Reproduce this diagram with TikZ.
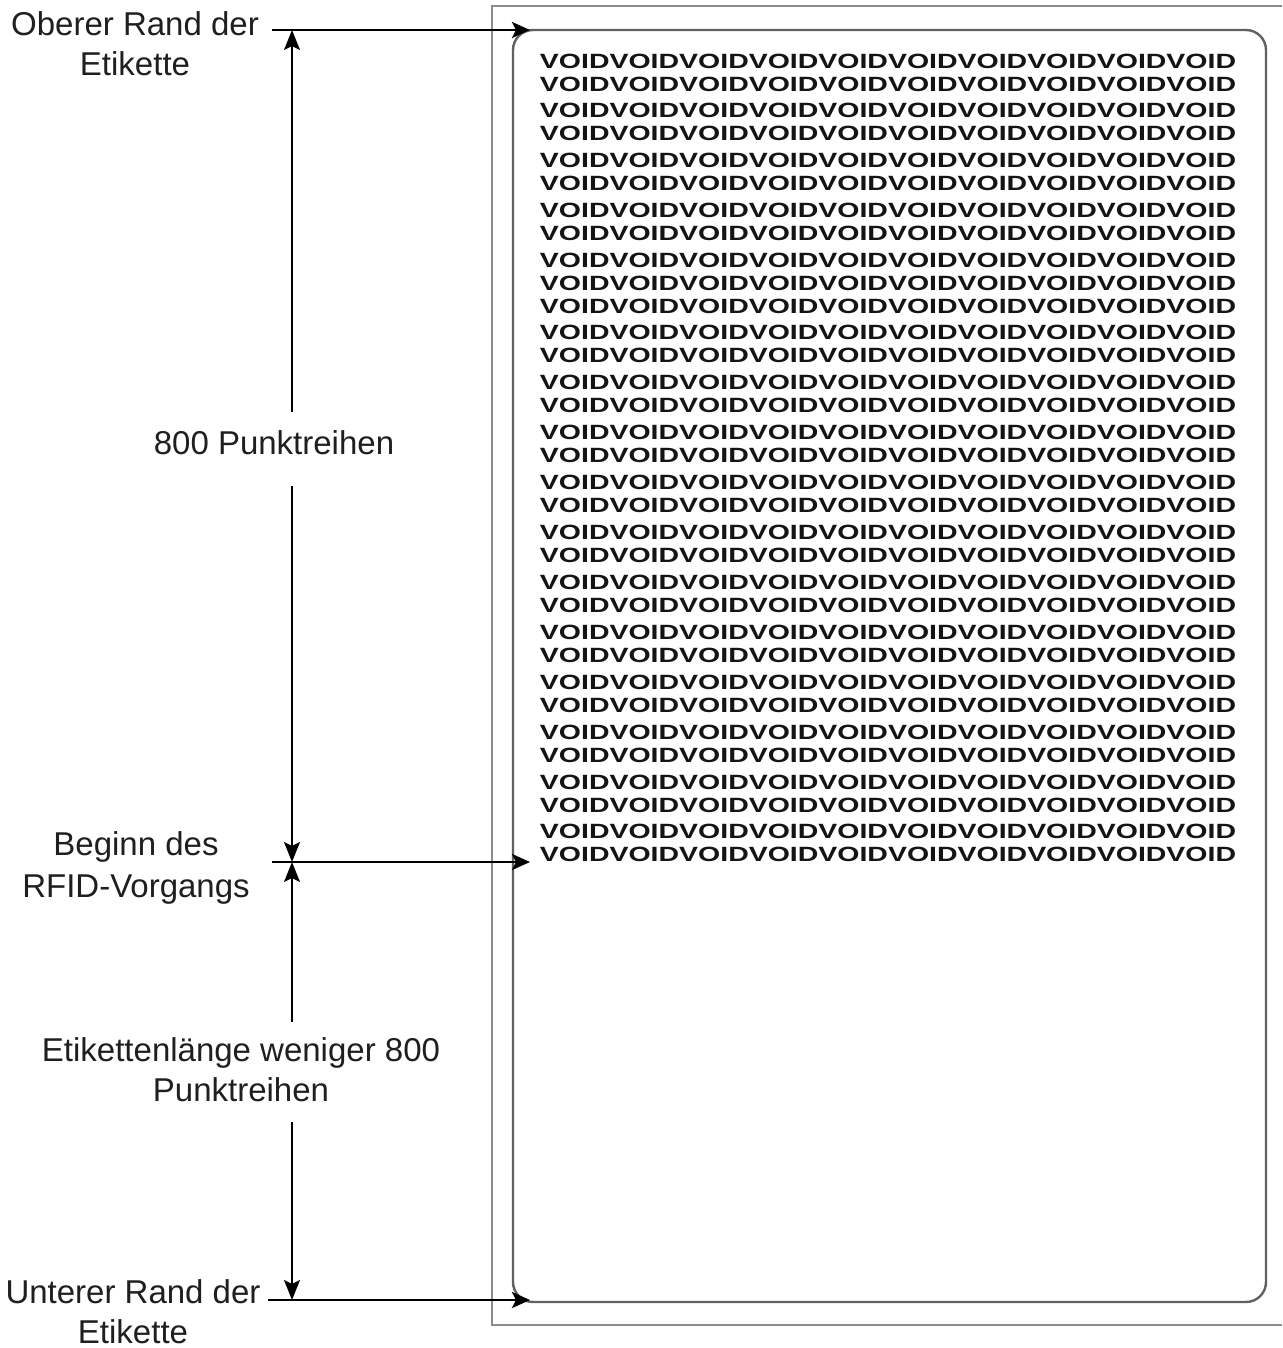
\documentclass[tikz,border=0pt]{standalone}
\usepackage{fontspec}
\usepackage{graphicx}
\setmainfont{Liberation Sans}
\usetikzlibrary{arrows.meta}
\newcommand\myvoidline{VOIDVOIDVOIDVOIDVOIDVOIDVOIDVOIDVOIDVOID}
\begin{document}
\begin{tikzpicture}[x=0.5pt,y=-0.5pt,
  lbl/.style={align=center,text=black!88,font=\fontsize{16.5}{20}\selectfont,inner sep=0pt},
  voidrow/.style={inner sep=0pt,text=black!92},
  outerframe/.style={draw=black!45,line width=1pt},
  innerframe/.style={draw=black!62,line width=1.2pt,rounded corners=10pt},
  harrow/.style={-{Stealth[length=9pt,width=8pt,inset=2pt]},line width=1.4pt},
  varrow/.style={-{Stealth[length=10pt,width=8pt,inset=2pt]},line width=0.8pt}]
\useasboundingbox (0,0) rectangle (1282,1348);
\fill[white] (0,0) rectangle (1282,1348);
% frames
\draw[outerframe] (1282,6) -- (492,6) -- (492,1325) -- (1282,1325);
\draw[innerframe] (513,30) rectangle (1266,1302);
% VOID rows
\foreach \yy [count=\i] in {61,84,110,133,160,183,210,233,260,283,306,332,355,382,405,432,455,482,505,532,555,582,605,632,655,682,705,732,755,782,805,831,854}
  \node[voidrow] (v\i) at (888,\yy) {\resizebox{348pt}{7.2pt}{\bfseries\myvoidline}};
% labels
\node[lbl] (top) at (135,44) {Oberer Rand der\\Etikette};
\node[lbl] (p800) at (274,443) {800 Punktreihen};
\node[lbl,font=\fontsize{16.5}{21}\selectfont] (rfid) at (136,868) {Beginn des\\RFID-Vorgangs};
\node[lbl] (rest) at (241,1070) {Etikettenlänge weniger 800\\Punktreihen};
\node[lbl] (bottom) at (133,1312) {Unterer Rand der\\Etikette};
% coordinates
\coordinate (topL) at (272,30);
\coordinate (topR) at (530,30);
\coordinate (midL) at (272,862);
\coordinate (midR) at (530,862);
\coordinate (botL) at (268,1300);
\coordinate (botR) at (530,1300);
\coordinate (va) at (292,30);
\coordinate (vb) at (292,412);
\coordinate (vc) at (292,486);
\coordinate (vd) at (292,862);
\coordinate (ve) at (292,1022);
\coordinate (vf) at (292,1122);
\coordinate (vg) at (292,1300);
% connectors
\draw[harrow] (topL) -- (topR);
\draw[harrow] (midL) -- (midR);
\draw[harrow] (botL) -- (botR);
\draw[varrow] (vb) -- (va);
\draw[varrow] (vc) -- (vd);
\draw[varrow] (ve) -- (vd);
\draw[varrow] (vf) -- (vg);
\end{tikzpicture}
\end{document}
